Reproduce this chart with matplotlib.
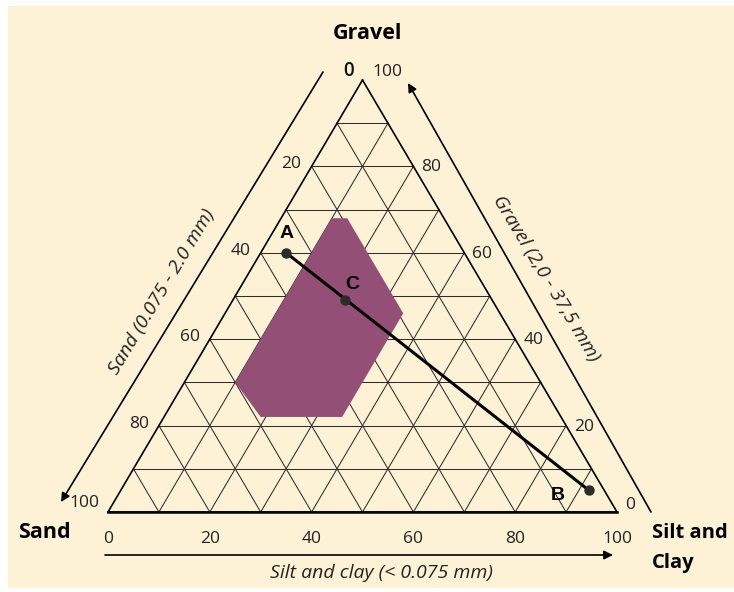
import matplotlib
matplotlib.use("Agg")
import matplotlib.pyplot as plt
import numpy as np
from matplotlib.patches import Polygon, Rectangle

# ---- data -------------------------------------------------------------
tick_values = [0, 20, 40, 60, 80, 100]
left_tick_values = [20, 40, 60, 80]      # sand %, left edge
right_tick_values = [20, 40, 60, 80]     # gravel %, right edge

# shaded envelope (silt+clay %, gravel %)
region_silt = [10, 13, 35, 35, 19, 10]
region_gravel = [68, 68, 46, 22, 22, 30]

# mixing line points (silt+clay %, gravel %)
point_names = ["A", "C", "B"]
point_silt = [5, 22, 92]
point_gravel = [60, 49, 5]
point_label_offsets = [(0, 19), (8, 16), (-31, -5)]

# ---- geometry ---------------------------------------------------------
H = 84.87          # triangle height for a base of 100
PX = 5.09          # pixels per data unit
X0, Y0 = 108, 512  # pixel position of the lower-left corner

BG = "#FEF2D6"
PURPLE = "#934F75"
FONT = "Open Sans"


def tern(silt, gravel):
    silt = np.asarray(silt, float)
    gravel = np.asarray(gravel, float)
    return silt + gravel / 2.0, gravel * H / 100.0


def px(x, y):
    return (x - X0) / PX, (Y0 - y) / PX


fig = plt.figure(figsize=(7.34, 5.92), dpi=100)
fig.patch.set_facecolor("white")
fig.patches.append(Rectangle((8 / 734, 4 / 592), 726 / 734, 582 / 592,
                             transform=fig.transFigure, facecolor=BG,
                             edgecolor="none", zorder=-10))

ax = fig.add_axes([0, 0, 1, 1])
ax.set_zorder(1)
ax.set_facecolor("none")
ax.patch.set_alpha(0)
ax.set_xlim((0 - X0) / PX, (734 - X0) / PX)
ax.set_ylim((Y0 - 592) / PX, Y0 / PX)
ax.axis("off")

# grid: constant gravel, constant silt, constant sand
grid_kw = dict(color="#2e2e2e", lw=0.75, zorder=1)
for v in range(10, 100, 10):
    x, y = tern([0, 100 - v], [v, v])
    ax.plot(x, y, **grid_kw)
    x, y = tern([v, v], [0, 100 - v])
    ax.plot(x, y, **grid_kw)
    x, y = tern([100 - v, 0], [0, 100 - v])
    ax.plot(x, y, **grid_kw)

# outline
x, y = tern([0, 100, 0, 0], [0, 0, 100, 0])
ax.plot(x[:3], y[:3], color="black", lw=1.2, zorder=4)
ax.plot(x[2:], y[2:], color="black", lw=1.2, zorder=4)
ax.plot(x[:2], y[:2], color="black", lw=1.8, zorder=4)

# shaded envelope
rx, ry = tern(region_silt, region_gravel)
ax.add_patch(Polygon(np.column_stack([rx, ry]), closed=True,
                     facecolor=PURPLE, edgecolor="none", zorder=3))

# mixing line A-B with C
mx, my = tern(point_silt, point_gravel)
ax.plot([mx[0], mx[2]], [my[0], my[2]], color="black", lw=2.2,
        solid_capstyle="round", zorder=5)
ax.plot(mx, my, "o", color="#2b2b2b", markersize=6.5, zorder=6)
for name, x, y, off in zip(point_names, mx, my, point_label_offsets):
    ax.annotate(name, (x, y), xytext=off, textcoords="offset pixels",
                ha="center", va="center", fontsize=14, fontweight="bold",
                family="Liberation Sans", zorder=7)

# tick labels
tick_kw = dict(textcoords="offset pixels", fontsize=12.5, family=FONT,
               color="#222222")
for v in tick_values:
    ax.annotate(str(v), tern(v, 0), xytext=(0, -27), ha="center",
                va="center", **tick_kw)
for v in left_tick_values:
    ax.annotate(str(v), tern(0, 100 - v), xytext=(-10, 2), ha="right",
                va="center", **tick_kw)
ax.annotate("100", tern(0, 0), xytext=(-9, 9), ha="right", va="center",
            **tick_kw)
ax.annotate("0", tern(0, 100), xytext=(-14, 9), ha="center", va="center",
            textcoords="offset pixels", fontsize=13.5, family=FONT,
            fontweight="semibold", color="#111111")
for v in right_tick_values:
    ax.annotate(str(v), tern(100 - v, v), xytext=(8, -1), ha="left",
                va="center", **tick_kw)
ax.annotate("0", tern(100, 0), xytext=(8, 7), ha="left", va="center",
            **tick_kw)
ax.annotate("100", tern(0, 100), xytext=(10, 8), ha="left", va="center",
            **tick_kw)

# direction arrows
arrow_kw = dict(arrowstyle="-|>", color="black", lw=1.2, mutation_scale=13,
                shrinkA=0, shrinkB=0)
ax.annotate("", xy=px(61, 502), xytext=px(323, 72), arrowprops=arrow_kw)
ax.annotate("", xy=px(408, 83), xytext=px(651, 512), arrowprops=arrow_kw)
ax.annotate("", xy=px(613, 555), xytext=px(105, 555), arrowprops=arrow_kw)

# axis titles
title_kw = dict(fontsize=14, family=FONT, style="italic", color="#222222",
                ha="center", va="center", rotation_mode="anchor")
ax.text(*px(381, 573), "Silt and clay (< 0.075 mm)", **title_kw)
ax.text(*px(162, 292), "Sand (0.075 - 2.0 mm)", rotation=59, **title_kw)
ax.text(*px(546, 279), "Gravel (2,0 - 37,5 mm)", rotation=-59, **title_kw)

# corner names
corner_kw = dict(fontsize=15.5, family=FONT, fontweight="bold", color="black",
                 va="center")
ax.text(*px(367, 33), "Gravel", ha="center", **corner_kw)
ax.text(*px(44, 533), "Sand", ha="center", **corner_kw)
ax.text(*px(652, 533), "Silt and", ha="left", **dict(corner_kw, fontsize=14.5))
ax.text(*px(652, 563), "Clay", ha="left", **dict(corner_kw, fontsize=14.5))

fig.savefig("out.png", dpi=100, facecolor=fig.get_facecolor())
